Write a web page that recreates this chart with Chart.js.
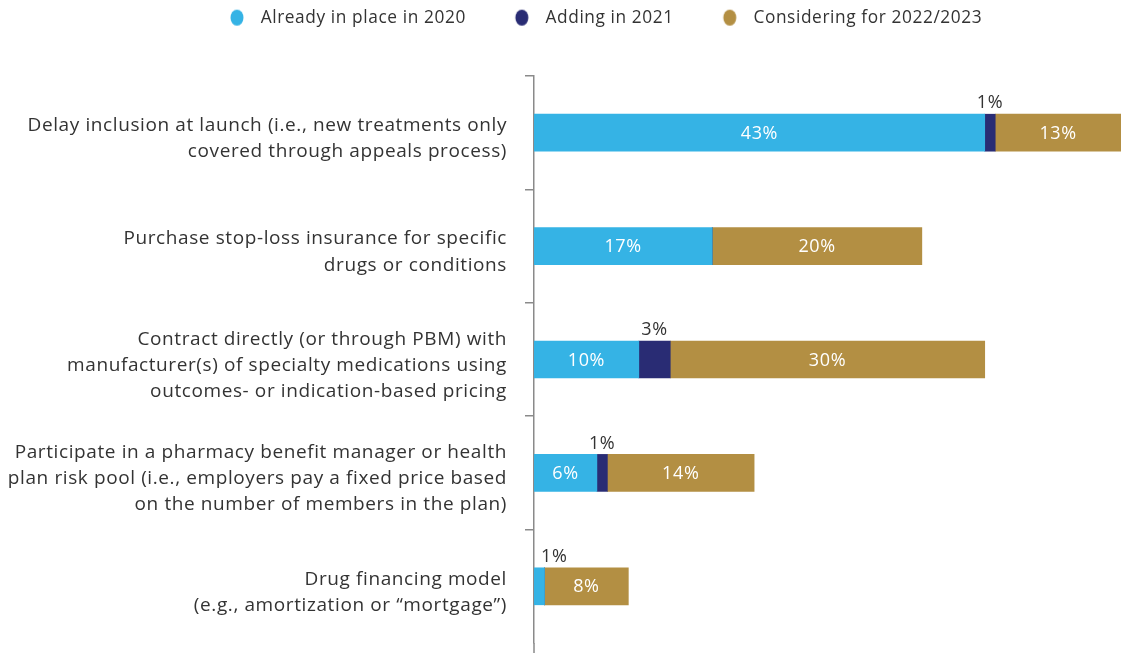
<!DOCTYPE html>
<html>
<head>
<meta charset="utf-8">
<script src="https://cdn.jsdelivr.net/npm/chart.js@4"></script>
<style>
html,body{margin:0;padding:0;background:#fff;}
canvas{display:block;}
</style>
</head>
<body>
<canvas id="c" width="1121" height="653"></canvas>
<script>
const categories = [
  ["Delay inclusion at launch (i.e., new treatments only", "covered through appeals process)"],
  ["Purchase stop-loss insurance for specific", "drugs or conditions"],
  ["Contract directly (or through PBM) with", "manufacturer(s) of specialty medications using", "outcomes- or indication-based pricing"],
  ["Participate in a pharmacy benefit manager or health", "plan risk pool (i.e., employers pay a fixed price based", "on the number of members in the plan)"],
  ["Drug financing model", "(e.g., amortization or \u201cmortgage\u201d)"]
];
const seriesNames = ["Already in place in 2020", "Adding in 2021", "Considering for 2022/2023"];
const alreadyInPlace2020 = [43, 17, 10, 6, 1];
const adding2021 = [1, 0, 3, 1, 0];
const considering2022_2023 = [13, 20, 30, 14, 8];
const colors = ["#35b3e5", "#292c74", "#b38f43"];

const FONT = "'Open Sans', Lato, sans-serif";
const TEXT = "#333333";
const AXIS = "#8a8a8a";

function makeDot(color) {
  const c = document.createElement('canvas');
  c.width = 38; c.height = 18;
  const g = c.getContext('2d');
  g.fillStyle = color;
  g.beginPath();
  g.ellipse(23, 9, 6.5, 8, 0, 0, Math.PI * 2);
  g.fill();
  return c;
}
const dots = colors.map(makeDot);

const spacing = {
  id: 'spacing',
  beforeLayout(chart) { chart.ctx.letterSpacing = '0.6px'; },
  beforeDraw(chart) { chart.ctx.letterSpacing = '0.6px'; }
};

const legendPos = {
  id: 'legendPos',
  beforeInit(chart) {
    const lg = chart.legend;
    if (lg) {
      const orig = lg.fit;
      lg.fit = function () { orig.call(this); this.height = 76; };
    }
  },
  afterLayout(chart) {
    const lg = chart.legend;
    lg.left = 181;
    lg.top = -24;
  }
};

const valueLabels = {
  id: 'valueLabels',
  afterDatasetsDraw(chart) {
    const ctx = chart.ctx;
    const area = chart.chartArea;
    ctx.save();
    ctx.font = "18px " + FONT;
    ctx.textAlign = 'center';
    ctx.textBaseline = 'middle';
    chart.data.datasets.forEach((ds, i) => {
      const meta = chart.getDatasetMeta(i);
      meta.data.forEach((bar, j) => {
        const v = ds.data[j];
        if (!v) return;
        const p = bar.getProps(['x', 'y', 'base', 'height'], true);
        const right = Math.min(p.x, area.right);
        let cx = (p.base + right) / 2;
        const txt = v + '%';
        if (v >= 5) {
          ctx.fillStyle = '#ffffff';
          ctx.fillText(txt, cx, p.y + 1);
        } else {
          const w = ctx.measureText(txt).width;
          cx = Math.max(cx, area.left + w / 2 + 7);
          ctx.fillStyle = TEXT;
          ctx.fillText(txt, cx, p.y - p.height / 2 - 11);
        }
      });
    });
    ctx.restore();
  }
};

const axisExtend = {
  id: 'axisExtend',
  afterDraw(chart) {
    const ctx = chart.ctx, a = chart.chartArea;
    ctx.save();
    ctx.strokeStyle = AXIS;
    ctx.lineWidth = 1.5;
    ctx.beginPath();
    ctx.moveTo(a.left, a.bottom);
    ctx.lineTo(a.left, chart.height);
    ctx.stroke();
    ctx.restore();
  }
};

new Chart(document.getElementById('c'), {
  type: 'bar',
  data: {
    labels: categories,
    datasets: [
      { label: seriesNames[0], data: alreadyInPlace2020, backgroundColor: colors[0] },
      { label: seriesNames[1], data: adding2021, backgroundColor: colors[1] },
      { label: seriesNames[2], data: considering2022_2023, backgroundColor: colors[2] }
    ]
  },
  options: {
    indexAxis: 'y',
    responsive: false,
    animation: false,
    devicePixelRatio: 1,
    datasets: { bar: { barThickness: 37, borderWidth: 0 } },
    layout: { padding: { top: 0, right: 0, bottom: 10, left: 0 } },
    scales: {
      x: {
        stacked: true, display: false, min: 0, max: 56
      },
      y: {
        stacked: true,
        afterFit(scale) { scale.width = 534; scale.paddingTop = 0; scale.paddingBottom = 0; },
        border: { display: true, color: AXIS, width: 1.5 },
        grid: {
          display: true, drawOnChartArea: false, drawTicks: true, tickLength: 9, lineWidth: 1.5,
          color: (c) => (c.index === undefined || c.index >= categories.length) ? 'rgba(0,0,0,0)' : AXIS
        },
        ticks: {
          autoSkip: false,
          color: TEXT,
          font: { family: FONT, size: 19, lineHeight: 1.37 },
          padding: 18,
          labelOffset: 6
        }
      }
    },
    plugins: {
      tooltip: { enabled: false },
      legend: {
        position: 'top',
        align: 'start',
        labels: {
          usePointStyle: true,
          pointStyleWidth: 38,
          boxHeight: 12,
          padding: 33,
          color: TEXT,
          font: { family: FONT, size: 17.3 },
          generateLabels(chart) {
            const items = Chart.defaults.plugins.legend.labels.generateLabels(chart);
            items.forEach((it, i) => { it.pointStyle = dots[i]; it.lineWidth = 0; it.strokeStyle = 'rgba(0,0,0,0)'; });
            return items;
          }
        }
      }
    }
  },
  plugins: [spacing, legendPos, valueLabels, axisExtend]
});
</script>
</body>
</html>
